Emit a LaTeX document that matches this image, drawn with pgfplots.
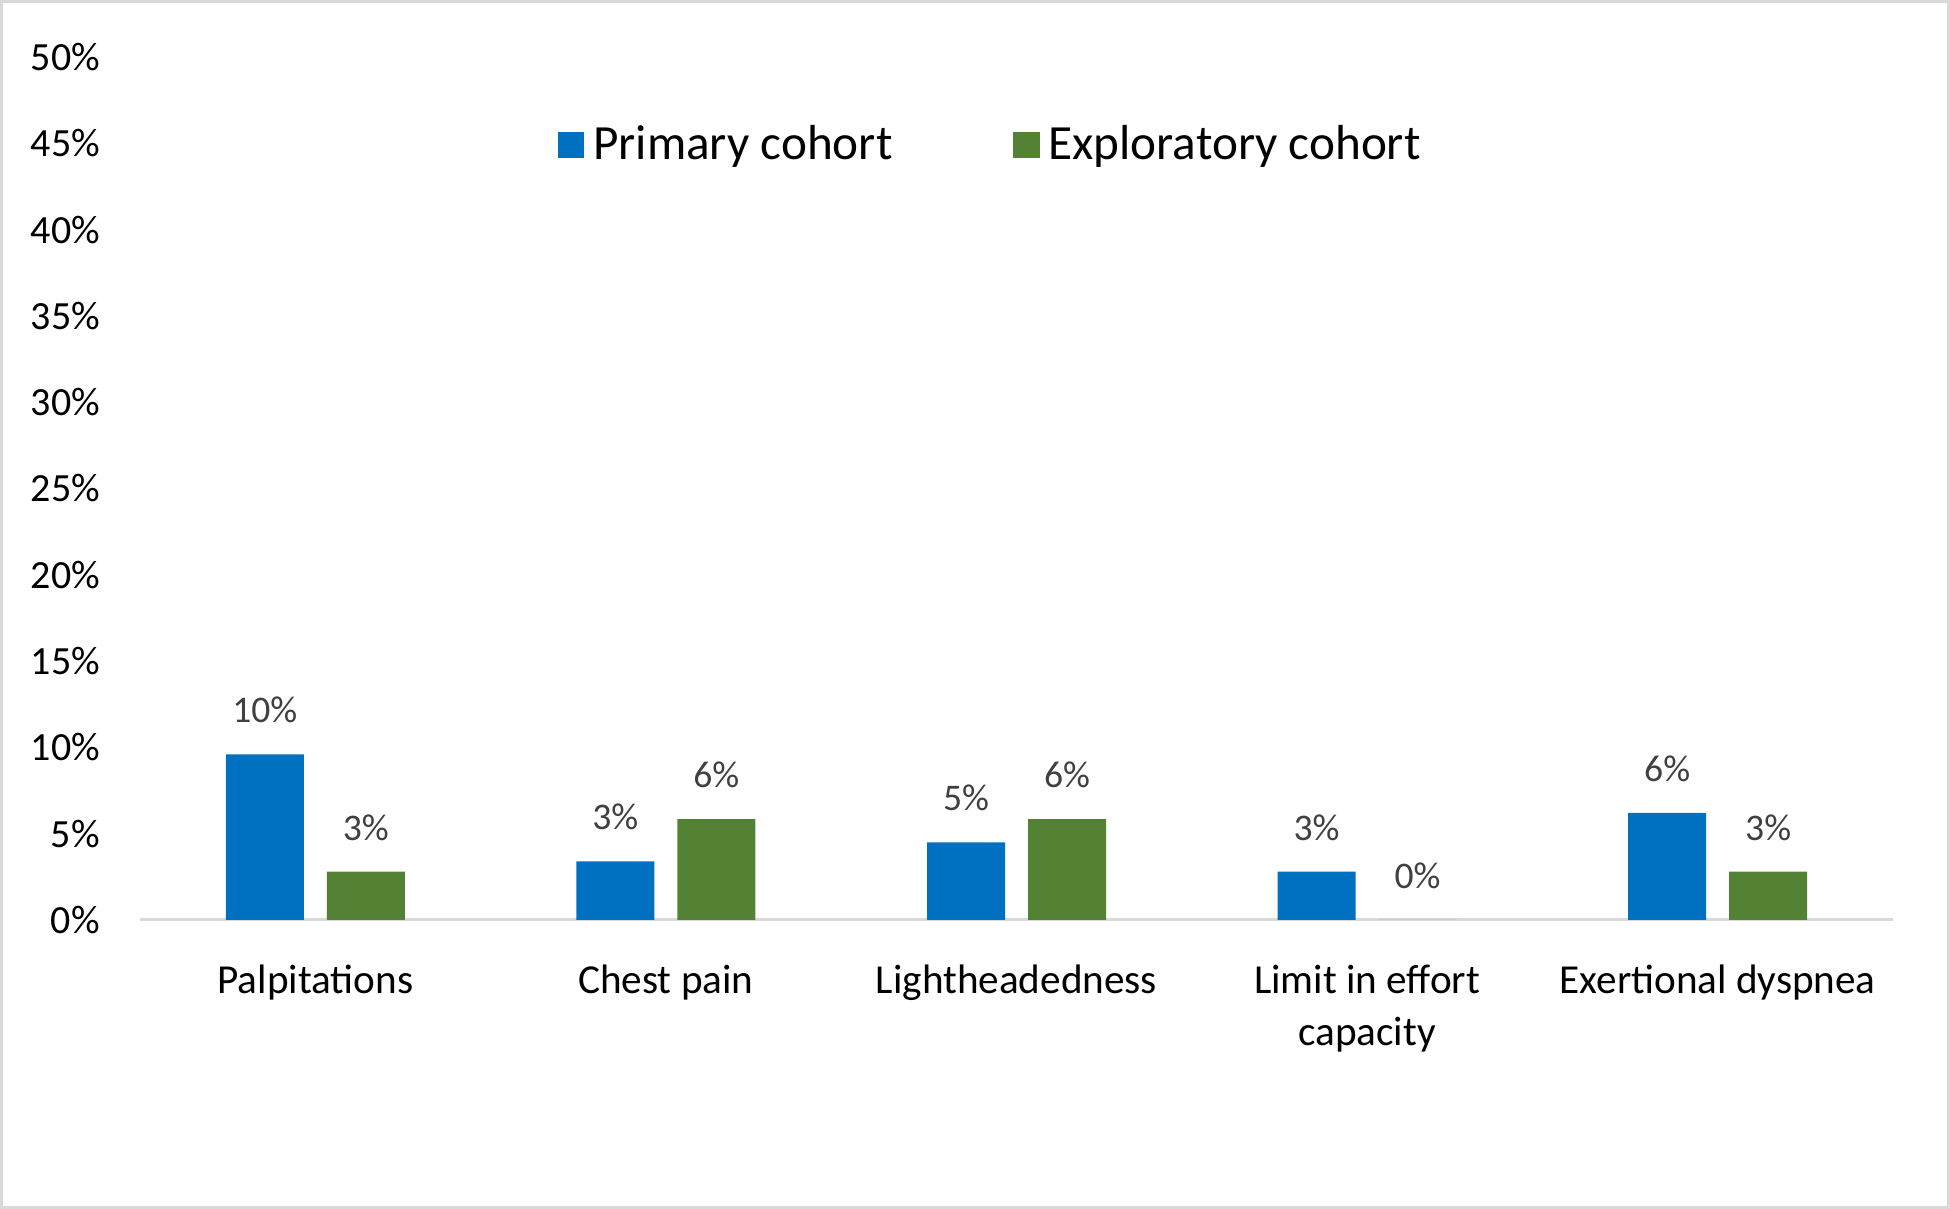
\documentclass[border=0pt]{standalone}
\usepackage{fontspec}
\setmainfont{Carlito}
\usepackage{pgfplots}
\pgfplotsset{compat=1.18}

\definecolor{primblue}{HTML}{0070C0}
\definecolor{explgreen}{HTML}{548235}
\definecolor{linegray}{HTML}{D9D9D9}
\definecolor{labgray}{HTML}{404040}

\begin{document}
\begin{tikzpicture}
\begin{axis}[
    scale only axis,
    width=438.25pt, height=215.75pt,
    ymin=0, ymax=50,
    xmin=-0.5, xmax=4.5,
    ybar=5.75pt, bar width=19.5pt,
    axis y line*=left,
    y axis line style={draw=none},
    axis x line*=bottom,
    x axis line style={-, draw=linegray, line width=0.75pt},
    tick style={draw=none},
    xtick={0,1,2,3,4},
    xticklabels={Palpitations, Chest pain, Lightheadedness, {Limit in effort\\capacity}, Exertional dyspnea},
    xticklabel style={font=\fontsize{10.3pt}{13pt}\selectfont, align=center, anchor=north, yshift=-3.5pt},
    ytick={0,5,...,50},
    yticklabel={\pgfmathprintnumber{\tick}\%},
    yticklabel style={font=\fontsize{10pt}{12pt}\selectfont, xshift=-6.5pt},
    /pgf/number format/assume math mode=true,
    point meta=explicit symbolic,
    nodes near coords,
    nodes near coords style={font=\fontsize{9.4pt}{11pt}\selectfont, color=labgray, anchor=base, yshift=7.9pt},
    legend columns=2,
    legend style={at={(rel axis cs:0.487,0.898)}, anchor=center, draw=none, fill=none,
        font=\fontsize{12.3pt}{14pt}\selectfont,
        nodes={inner xsep=2.2pt},
        /tikz/every even column/.append style={column sep=28pt}},
    legend image code/.code={\path[#1, draw=none] (0pt,-3.3pt) rectangle (6.6pt,3.3pt);},
]
\addplot[fill=primblue, draw=none] coordinates {
    (0,9.6) [10\%]
    (1,3.4) [3\%]
    (2,4.5) [5\%]
    (3,2.8) [3\%]
    (4,6.2) [6\%]
};
\addplot[fill=explgreen, draw=none] coordinates {
    (0,2.8) [3\%]
    (1,5.85) [6\%]
    (2,5.85) [6\%]
    (3,0) [0\%]
    (4,2.8) [3\%]
};
\legend{Primary cohort, Exploratory cohort}
\end{axis}
\draw[draw=linegray, line width=0.75pt] (-34.625pt,-71.875pt) rectangle (452.125pt,229.625pt);
\end{tikzpicture}
\end{document}
